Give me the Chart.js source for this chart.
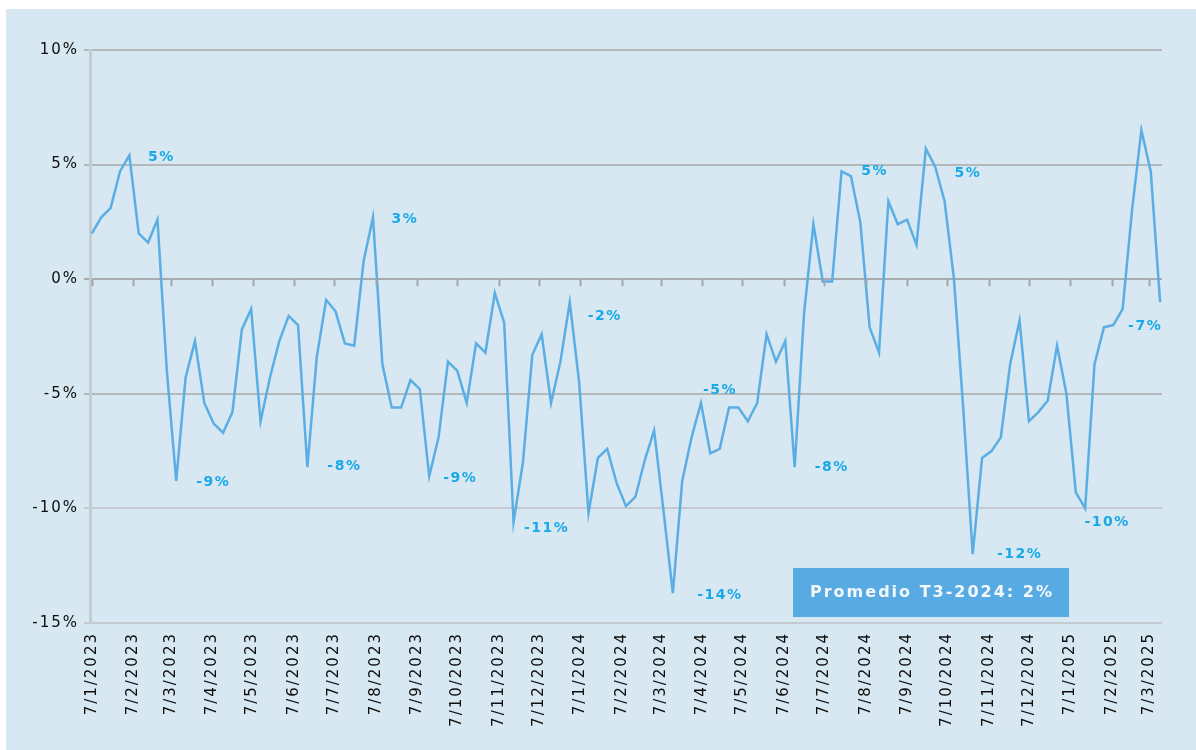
<!DOCTYPE html>
<html>
<head>
<meta charset="utf-8">
<script src="https://cdn.jsdelivr.net/npm/chart.js@4.4.1/dist/chart.umd.min.js"></script>
<style>
  html, body { margin: 0; padding: 0; background: #ffffff; }
  #wrap { position: absolute; left: 6px; top: 9px; width: 1190px; height: 741px; background: #d7e8f2; }
  canvas { display: block; }
</style>
</head>
<body>
<div id="wrap"><canvas id="chart" width="1190" height="741"></canvas></div>
<script>
// weekly values (%), first point on 7/1/2023
const weeklyValues = [
  2.0, 2.7, 3.1, 4.7, 5.4, 2.0, 1.6, 2.6, -4.0, -8.8,
  -4.3, -2.7, -5.4, -6.3, -6.7, -5.8, -2.2, -1.3, -6.2, -4.3,
  -2.7, -1.6, -2.0, -8.2, -3.4, -0.9, -1.4, -2.8, -2.9, 0.8,
  2.7, -3.7, -5.6, -5.6, -4.4, -4.8, -8.6, -6.9, -3.6, -4.0,
  -5.4, -2.8, -3.2, -0.6, -1.9, -10.6, -8.0, -3.3, -2.4, -5.4,
  -3.6, -1.0, -4.5, -10.2, -7.8, -7.4, -8.9, -9.9, -9.5, -7.9,
  -6.6, -10.1, -13.7, -8.8, -6.9, -5.4, -7.6, -7.4, -5.6, -5.6,
  -6.2, -5.4, -2.4, -3.6, -2.7, -8.2, -1.5, 2.4, -0.1, -0.1,
  4.7, 4.5, 2.5, -2.1, -3.2, 3.4, 2.4, 2.6, 1.5, 5.7,
  4.9, 3.4, 0.0, -5.7, -12.0, -7.8, -7.5, -6.9, -3.7, -1.8,
  -6.2, -5.8, -5.3, -2.9, -5.0, -9.3, -10.0, -3.7, -2.1, -2.0,
  -1.3, 3.0, 6.5, 4.7, -1.0
];

// month tick labels (day/month/year)
const monthLabels = [
  '7/1/2023', '7/2/2023', '7/3/2023', '7/4/2023', '7/5/2023', '7/6/2023',
  '7/7/2023', '7/8/2023', '7/9/2023', '7/10/2023', '7/11/2023', '7/12/2023',
  '7/1/2024', '7/2/2024', '7/3/2024', '7/4/2024', '7/5/2024', '7/6/2024',
  '7/7/2024', '7/8/2024', '7/9/2024', '7/10/2024', '7/11/2024', '7/12/2024',
  '7/1/2025', '7/2/2025', '7/3/2025'
];

// highlighted values written next to the line
const labelIndex = [4, 9, 23, 30, 36, 45, 51, 62, 65, 75, 80, 89, 94, 106, 114];
const labelText = ['5%', '-9%', '-8%', '3%', '-9%', '-11%', '-2%', '-14%', '-5%', '-8%', '5%', '5%', '-12%', '-10%', '-7%'];

const yTicks = [10, 5, 0, -5, -10, -15];
const boxText = 'Promedio T3-2024: 2%';

// label offsets from their point, in px
const labelOffsets = [[32, 2], [37, 1], [37, -1], [32, 2], [31, 2], [33, 6], [35, 14], [47, 2], [19, -13], [37, 0], [33, 0], [42, 25], [47, 0], [22, 14], [-15, 24]];

const FONT = '"DejaVu Sans", Verdana, sans-serif';

function weeksFromStart(label) {
  const [d, m, y] = label.split('/').map(Number);
  const start = Date.UTC(2023, 0, 7);
  return (Date.UTC(y, m - 1, d) - start) / (7 * 864e5);
}

const points = weeklyValues.map((v, i) => ({ x: i, y: v }));

const spacingPlugin = {
  id: 'spacing',
  beforeDraw(chart) {
    chart.ctx.letterSpacing = '2px';
  }
};

const zeroTicksPlugin = {
  id: 'zeroTicks',
  afterDraw(chart) {
    const ctx = chart.ctx;
    const xs = chart.scales.x;
    const y0 = chart.scales.y.getPixelForValue(0);
    ctx.save();
    ctx.strokeStyle = '#a2a6a9';
    ctx.lineWidth = 2;
    xs.ticks.forEach(t => {
      const px = Math.round(xs.getPixelForValue(t.value)) + 0.5;
      ctx.beginPath();
      ctx.moveTo(px, y0);
      ctx.lineTo(px, y0 + 7);
      ctx.stroke();
    });
    ctx.restore();
  }
};

const valueLabelsPlugin = {
  id: 'valueLabels',
  afterDatasetsDraw(chart) {
    const ctx = chart.ctx;
    const xs = chart.scales.x;
    const ys = chart.scales.y;
    ctx.save();
    ctx.letterSpacing = '1.5px';
    ctx.font = 'bold 14px ' + FONT;
    ctx.fillStyle = '#19a8e8';
    ctx.textAlign = 'center';
    ctx.textBaseline = 'middle';
    labelIndex.forEach((idx, k) => {
      const px = xs.getPixelForValue(idx) + labelOffsets[k][0];
      const py = ys.getPixelForValue(weeklyValues[idx]) + labelOffsets[k][1];
      ctx.fillText(labelText[k], px, py);
    });

    // average box
    const ca = chart.chartArea;
    const bx = ca.left + 703;
    const by = ca.bottom - 55;
    ctx.fillStyle = '#58aae3';
    ctx.fillRect(bx, by, 276, 49);
    ctx.letterSpacing = '2px';
    ctx.font = 'bold 16px ' + FONT;
    ctx.fillStyle = '#f2f8fc';
    ctx.textAlign = 'left';
    ctx.fillText(boxText, bx + 17, by + 25);
    ctx.restore();
  }
};

new Chart(document.getElementById('chart'), {
  type: 'line',
  data: {
    datasets: [{
      data: points,
      borderColor: '#5baee4',
      borderWidth: 2.5,
      pointRadius: 0,
      tension: 0,
      fill: false
    }]
  },
  options: {
    responsive: false,
    animation: false,
    layout: { padding: { top: 41, right: 34, left: 0, bottom: 0 } },
    plugins: {
      legend: { display: false },
      tooltip: { enabled: false }
    },
    scales: {
      x: {
        type: 'linear',
        min: -0.2,
        max: 114.2,
        afterBuildTicks(scale) {
          scale.ticks = monthLabels.map(l => ({ value: weeksFromStart(l) }));
        },
        afterFit(scale) { scale.height = 127; },
        grid: { display: false },
        border: { display: false },
        ticks: {
          autoSkip: false,
          minRotation: 90,
          maxRotation: 90,
          padding: 1,
          color: '#0d0d0d',
          font: { family: FONT, size: 15 },
          callback: (v, i) => monthLabels[i]
        }
      },
      y: {
        min: -15,
        max: 10,
        afterBuildTicks(scale) {
          scale.ticks = yTicks.map(v => ({ value: v }));
        },
        afterFit(scale) { scale.width = 84; },
        grid: {
          lineWidth: 2,
          tickLength: 6,
          color: c => {
            const v = c.tick ? c.tick.value : 0;
            if (v === 0) return '#a8abae';
            if (v <= -10) return '#c4cacf';
            return '#b5b8bb';
          }
        },
        border: { display: true, color: '#c5ccd1', width: 3 },
        ticks: {
          padding: 5,
          color: '#0d0d0d',
          font: { family: FONT, size: 15 },
          callback: v => v + '%'
        }
      }
    }
  },
  plugins: [spacingPlugin, zeroTicksPlugin, valueLabelsPlugin]
});
</script>
</body>
</html>
